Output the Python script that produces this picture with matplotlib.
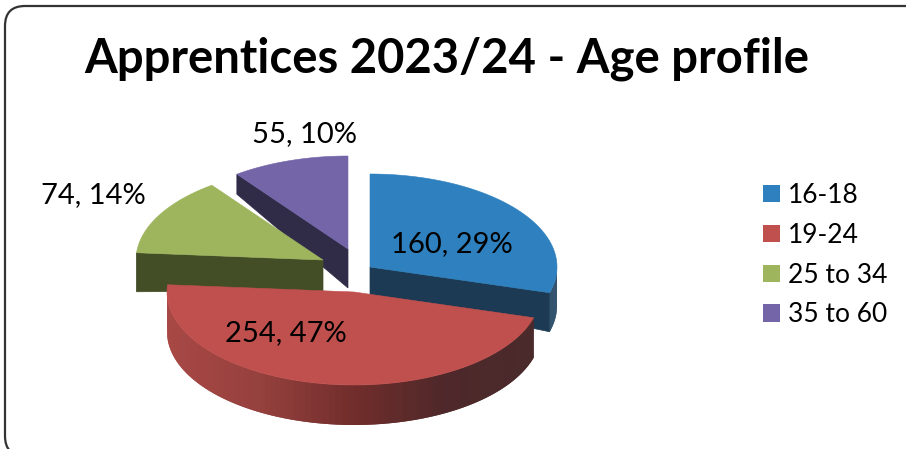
import numpy as np
import matplotlib
matplotlib.use("Agg")
import matplotlib.pyplot as plt
from matplotlib.patches import FancyBboxPatch, Polygon, Patch
from matplotlib.colors import LinearSegmentedColormap

# Chart data
title = "Apprentices 2023/24 - Age profile"
age_bands = ["16-18", "19-24", "25 to 34", "35 to 60"]
apprentices = [160, 254, 74, 55]

# Slice styling
top_colors = ["#2E80BE", "#C0504E", "#9EB55E", "#7465A8"]
wall_colors = ["#1C3A53", "#702D2B", "#434E27", "#302C48"]
rim_colors = ["#1F4260", None, "#434E27", "#302C48"]

# Pixel layout of the exploded pseudo-3D pie
RX, RY = 187, 93
apex_x = [370, 354, 323, 348]
apex_y = [267, 292, 260, 249]
apex_depth = [28, 40, 31, 39]
rim_depth = [39, 40, 39, 20]
visible_cut = ["end", None, "start", "start"]
label_x = [452, 286, 93, 304]
label_y = [244, 333, 195, 134]

plt.rcParams["font.family"] = ["Lato", "DejaVu Sans"]

fig = plt.figure(figsize=(9.06, 4.49), dpi=100)
ax = fig.add_axes([0, 0, 1, 1])
ax.set_xlim(0, 906)
ax.set_ylim(449, 0)
ax.axis("off")

# Rounded chart frame, running off the lower and right edges
ax.add_patch(FancyBboxPatch((5 + 20, 6 + 20), 920 - 40, 450 - 40,
                            boxstyle="round,pad=20,rounding_size=20",
                            fc="white", ec="#333333", lw=1.6, clip_on=True))

values = np.array(apprentices, dtype=float)
edges = np.concatenate([[0], np.cumsum(values) / values.sum() * 2 * np.pi])
shares = np.round(values / values.sum() * 100).astype(int)


def rim_point(i, theta):
    """Point on the upper rim of slice i; theta runs clockwise from 12 o'clock."""
    return (apex_x[i] + RX * np.sin(theta), apex_y[i] - RY * np.cos(theta))


red_wall = LinearSegmentedColormap.from_list(
    "red_wall", ["#A84845", "#94403D", "#702D2B", "#4E282A", "#4A2A2B"])

# Painted back to front: purple, green, blue, red
for i in [3, 2, 0, 1]:
    start, end = edges[i], edges[i + 1]

    # Flat side wall exposed by the explosion
    if visible_cut[i]:
        cut = start if visible_cut[i] == "start" else end
        px, py = rim_point(i, cut)
        ax.add_patch(Polygon([(apex_x[i], apex_y[i]), (px, py),
                              (px, py + rim_depth[i]),
                              (apex_x[i], apex_y[i] + apex_depth[i])],
                             closed=True, fc=wall_colors[i], ec=wall_colors[i],
                             lw=0.5))

    # Curved outer wall: overlapping strips, painted right to left for the gradient
    a0, a1 = max(start, np.pi / 2), min(end, 3 * np.pi / 2 + 0.08)
    if a1 > a0:
        thetas = np.linspace(a0, a1, 90)
        for k in range(len(thetas) - 1):
            t0, t1 = thetas[k], thetas[k + 1]
            x0, y0 = rim_point(i, t0)
            x1, y1 = rim_point(i, t1)
            x2, y2 = rim_point(i, thetas[max(k - 1, 0)])
            if i == 1:
                color = red_wall(1 - (533 - 0.5 * (x0 + x1)) / (533 - 167))
            else:
                color = rim_colors[i]
            ax.add_patch(Polygon([(x2, y2), (x1, y1), (x1, y1 + rim_depth[i]),
                                  (x2, y2 + rim_depth[i])],
                                 closed=True, fc=color, ec="none"))

    # Top face
    thetas = np.linspace(start, end, 200)
    rx, ry = rim_point(i, thetas)
    outline = np.column_stack([np.r_[apex_x[i], rx], np.r_[apex_y[i], ry]])
    ax.add_patch(Polygon(outline, closed=True, fc=top_colors[i],
                         ec=top_colors[i], lw=0.4))

for i, name in enumerate(age_bands):
    ax.text(label_x[i], label_y[i], f"{apprentices[i]}, {shares[i]}%",
            ha="center", va="center", fontsize=21, color="black")

ax.text(447, 59, title, ha="center", va="center", fontsize=34,
        fontweight="bold", color="black")

handles = [Patch(fc=c, ec=c, lw=0) for c in top_colors]
ax.legend(handles, age_bands, loc="upper left", bbox_to_anchor=(763, 183),
          bbox_transform=ax.transData, frameon=False, fontsize=19,
          handlelength=0.645, handleheight=0.645, handletextpad=0.3,
          labelspacing=0.56, borderpad=0, borderaxespad=0)

fig.savefig("out.png", dpi=100)
